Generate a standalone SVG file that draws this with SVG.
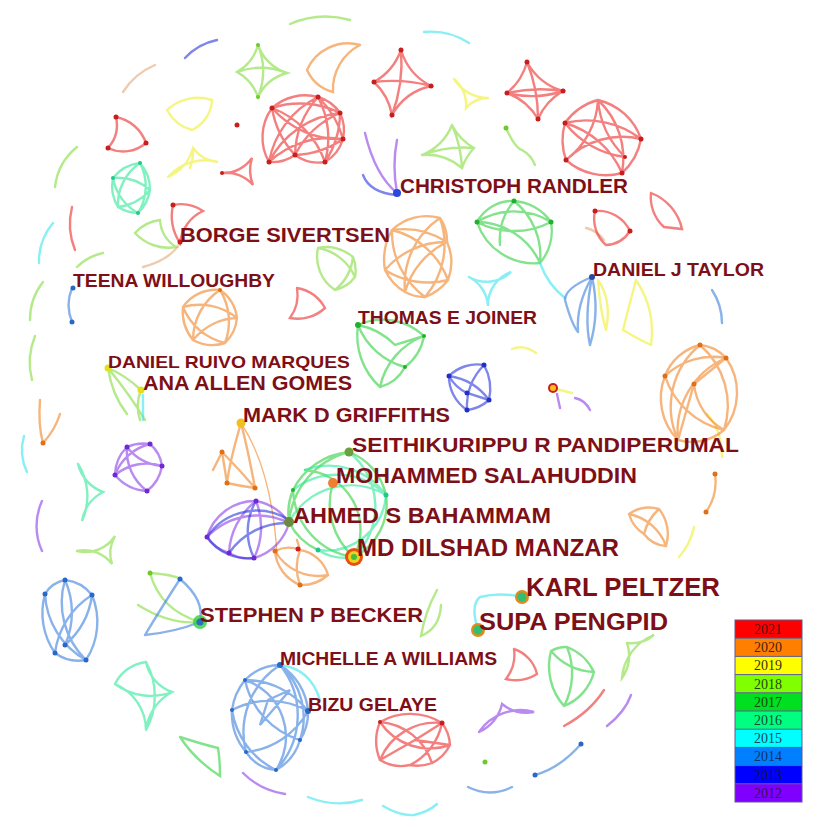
<svg xmlns="http://www.w3.org/2000/svg" width="827" height="827" viewBox="0 0 827 827">
<style>
.e path{fill:none;stroke-width:2.4;stroke-linecap:round;opacity:.6}
.r{stroke:#ec2a2a}.o{stroke:#f08424}.y{stroke:#eeee30}.lg{stroke:#84dc3c}.g{stroke:#2fd040}.t{stroke:#2ee89a}.c{stroke:#38e4ec}.b{stroke:#3a7ede}.db{stroke:#2a36dc}.p{stroke:#8a3ce6}.tan{stroke:#e2a878}
.n circle{stroke:none}
.nr{fill:#c81e1e}.no{fill:#e07018}.ny{fill:#d8d820}.nlg{fill:#70c82a}.ng{fill:#22b030}.nt{fill:#22c888}.nc{fill:#28c8d0}.nb{fill:#2a68c8}.ndb{fill:#2030c8}.np{fill:#7028d0}
.lab{font-family:"Liberation Sans",Arial,sans-serif;font-weight:bold;fill:#7e0f16}
.leg{font-family:"Liberation Serif","Times New Roman",serif;font-size:14px;text-anchor:middle}
</style>
<rect width="827" height="827" fill="#ffffff"/>
<g id="connectors" class="e">
<path class="lg" d="M290,24 A90,90 0 0 1 350,20"/>
<path class="c" d="M424,32 A70,70 0 0 1 469,43"/>
<path class="db" d="M185,58 A60,60 0 0 1 217,40"/>
<path class="tan" d="M123,92 A70,70 0 0 1 155,65"/>
<path class="lg" d="M77,147 A60,60 0 0 0 55,187"/>
<path class="r" d="M72,207 A70,70 0 0 0 75,250"/>
<path class="c" d="M53,223 A60,60 0 0 0 39,263"/>
<path class="lg" d="M77,267 Q88,256 103,253"/>
<path class="lg" d="M43,282 A60,60 0 0 0 30,320"/>
<path class="lg" d="M35,336 A70,70 0 0 0 32,380"/>
<path class="o" d="M40,400 Q38,425 43,443 Q55,430 60,414"/>
<path class="c" d="M24,436 A50,50 0 0 0 27,472"/>
<path class="p" d="M42,501 A60,60 0 0 0 42,551"/>
<path class="p" d="M243,773 Q260,790 285,794"/>
<path class="c" d="M308,797 Q335,808 362,800"/>
<path class="c" d="M383,806 Q400,816 414,815 Q428,812 437,804"/>
<path class="b" d="M468,787 Q490,798 512,787"/>
<path class="b" d="M535,775 Q560,768 581,744"/>
<path class="r" d="M564,726 Q590,712 604,690"/>
<path class="p" d="M607,726 Q625,712 631,695"/>
<path class="y" d="M694,527 Q690,545 679,557"/>
<path class="o" d="M715,474 Q718,495 706,512"/>
<path class="y" d="M707,414 Q722,430 722,457"/>
<path class="b" d="M712,290 A60,60 0 0 1 722,323"/>
<path class="y" d="M512,349 Q524,344 536,353"/>
<path class="tan" d="M586,228 Q596,230 604,240"/>
<path class="lg" d="M506,128 Q515,148 522,150 Q531,155 535,165"/>
<path class="lg" d="M258,45 A45,45 0 0 1 237,72 A45,45 0 0 1 258,97 A45,45 0 0 1 287,73 A45,45 0 0 1 258,45 M237,72 A70,70 0 0 1 287,73 M258,45 A70,70 0 0 1 258,97"/>
<path class="o" d="M360,45 A45,45 0 0 0 307,70 A40,40 0 0 0 333,92 A50,50 0 0 1 360,45"/>
<path class="r" d="M401,50 A60,60 0 0 1 374,82 A60,60 0 0 1 392,115 A60,60 0 0 1 431,86 A60,60 0 0 1 401,50 M374,82 A150,150 0 0 1 431,86 M401,50 A150,150 0 0 1 392,115"/>
<path class="r" d="M527,62 A60,60 0 0 1 507,93 A60,60 0 0 1 538,119 A60,60 0 0 1 563,91 A60,60 0 0 1 527,62 M507,93 A150,150 0 0 1 563,91 M527,62 A150,150 0 0 1 538,119 M507,93 A100,100 0 0 0 563,91"/>
<path class="y" d="M454,79 A35,35 0 0 1 466,108 A30,30 0 0 1 489,98 A40,40 0 0 1 454,79"/>
<path class="r" d="M598,100 A60,60 0 0 0 565,123 A60,60 0 0 0 566,160 A60,60 0 0 0 622,173 A60,60 0 0 0 641,139 A60,60 0 0 0 598,100 M565,123 A90,90 0 0 1 641,139 M565,123 A90,90 0 0 0 625,157 M566,160 A80,80 0 0 1 641,139 M598,100 A80,80 0 0 1 622,173 M598,100 A90,90 0 0 0 625,157 M566,160 A80,80 0 0 0 598,100 M565,123 A90,90 0 0 1 622,173"/>
<path class="lg" d="M452,125 A55,55 0 0 1 422,155 A55,55 0 0 1 462,168 A55,55 0 0 1 474,148 A55,55 0 0 1 452,125 M422,155 A120,120 0 0 1 474,148 M452,125 A120,120 0 0 1 462,168"/>
<path class="y" d="M167,110 A40,40 0 0 0 192,130 A35,35 0 0 0 212,100 A45,45 0 0 0 167,110"/>
<path class="r" d="M272,108 A50,50 0 0 1 318,97 A40,40 0 0 1 340,113 A40,40 0 0 1 343,139 A40,40 0 0 1 325,162 A40,40 0 0 1 295,155 A40,40 0 0 1 269,162 A50,50 0 0 1 272,108 M272,108 A90,90 0 0 1 340,113 M272,108 A90,90 0 0 0 343,139 M272,108 A90,90 0 0 1 325,162 M318,97 A90,90 0 0 1 343,139 M318,97 A90,90 0 0 1 325,162 M318,97 A90,90 0 0 0 295,155 M318,97 A90,90 0 0 0 269,162 M340,113 A90,90 0 0 1 325,162 M340,113 A90,90 0 0 0 295,155 M340,113 A90,90 0 0 0 269,162 M343,139 A90,90 0 0 1 295,155 M343,139 A90,90 0 0 0 269,162 M272,108 A90,90 0 0 0 295,155"/>
<path class="r" d="M116,117 A35,35 0 0 1 108,148 A35,35 0 0 0 146,143 A40,40 0 0 0 116,117"/>
<path class="y" d="M168,177 A45,45 0 0 0 193,148 A35,35 0 0 0 218,162 A50,50 0 0 0 168,177 M193,148 A50,50 0 0 1 190,168"/>
<path class="r" d="M222,173 A35,35 0 0 0 252,158 A40,40 0 0 0 253,185 A35,35 0 0 0 222,173"/>
<path class="p" d="M365,133 Q375,175 397,193 Q392,165 397,140"/>
<path class="db" d="M363,175 Q370,193 397,195"/>
<path class="t" d="M140,163 A40,40 0 0 0 113,178 A40,40 0 0 0 118,207 A40,40 0 0 0 138,213 A40,40 0 0 0 150,190 A40,40 0 0 0 140,163 M113,178 A50,50 0 0 1 150,190 M140,163 A50,50 0 0 1 138,213 M113,178 A50,50 0 0 0 138,213 M118,207 A50,50 0 0 1 140,163 M118,207 A50,50 0 0 0 150,190"/>
<path class="r" d="M173,205 A40,40 0 0 1 203,211 A40,40 0 0 0 180,243 A50,50 0 0 1 173,205"/>
<path class="lg" d="M135,233 A40,40 0 0 1 160,220 A35,35 0 0 0 176,247 A45,45 0 0 1 135,233"/>
<path class="tan" d="M143,267 Q170,260 180,243"/>
<path class="lg" d="M318,248 A40,40 0 0 0 335,290 A35,35 0 0 0 355,277 A35,35 0 0 0 353,257 A40,40 0 0 0 318,248 M318,248 A50,50 0 0 1 355,277 M353,257 A50,50 0 0 1 335,290"/>
<path class="o" d="M440,218 A50,50 0 0 0 392,230 A60,60 0 0 0 385,270 A50,50 0 0 0 405,292 A40,40 0 0 0 425,297 A50,50 0 0 0 448,280 A50,50 0 0 0 447,242 A40,40 0 0 0 440,218 M392,230 A80,80 0 0 1 448,280 M392,230 A80,80 0 0 0 425,297 M440,218 A80,80 0 0 0 405,292 M440,218 A80,80 0 0 1 425,297 M385,270 A80,80 0 0 1 447,242 M385,270 A80,80 0 0 0 448,280 M392,230 A80,80 0 0 1 447,242 M405,292 A80,80 0 0 1 447,242"/>
<path class="b" d="M72,288 A45,45 0 0 0 72,322"/>
<path class="o" d="M220,290 A40,40 0 0 0 183,307 A45,45 0 0 0 193,340 A40,40 0 0 0 225,343 A40,40 0 0 0 237,318 A40,40 0 0 0 220,290 M183,307 A60,60 0 0 1 237,318 M220,290 A60,60 0 0 1 225,343 M220,290 A60,60 0 0 0 193,340 M183,307 A60,60 0 0 0 225,343 M193,340 A60,60 0 0 1 237,318"/>
<path class="r" d="M297,288 A40,40 0 0 1 290,318 A40,40 0 0 0 325,308 A40,40 0 0 0 297,288"/>
<path class="g" d="M358,325 A60,60 0 0 1 424,336 A50,50 0 0 1 405,367 A40,40 0 0 1 380,387 A70,70 0 0 1 358,325 M358,325 A70,70 0 0 0 405,367 M424,336 A70,70 0 0 0 380,387 M358,325 A70,70 0 0 1 395,345 L424,336"/>
<path class="g" d="M514,201 A40,40 0 0 0 477,222 A60,60 0 0 0 540,263 A50,50 0 0 0 551,222 A50,50 0 0 0 514,201 M477,222 A70,70 0 0 1 551,222 M477,222 A80,80 0 0 0 551,222 M514,201 A60,60 0 0 0 500,245 M514,201 A70,70 0 0 1 540,263 M477,222 A70,70 0 0 1 540,263"/>
<path class="c" d="M540,263 Q548,285 565,298"/>
<path class="c" d="M469,277 A35,35 0 0 0 511,272 A35,35 0 0 0 488,306 A35,35 0 0 0 469,277"/>
<path class="r" d="M595,211 A35,35 0 0 0 606,245 A30,30 0 0 0 630,231 A35,35 0 0 0 595,211"/>
<path class="r" d="M651,193 A40,40 0 0 0 664,227 L682,229 A50,50 0 0 0 651,193"/>
<path class="b" d="M592,277 Q565,288 565,300 Q572,325 578,332 M592,277 Q576,305 578,332 M592,277 Q600,312 590,345 M592,277 Q584,318 590,345"/>
<path class="y" d="M598,280 Q612,300 606,330 M598,280 Q600,310 606,330"/>
<path class="y" d="M636,280 Q628,310 623,330 M636,280 Q656,310 651,345 M623,330 Q640,340 651,345"/>
<path class="db" d="M484,365 A40,40 0 0 0 449,376 A40,40 0 0 0 467,410 A40,40 0 0 0 489,400 A50,50 0 0 0 484,365 M449,376 A60,60 0 0 1 489,400 M484,365 A60,60 0 0 0 467,410 M449,376 A40,40 0 0 0 467,393 L489,400"/>
<path class="y" d="M556,389 L572,393"/>
<path class="p" d="M557,394 L560,408 M575,398 Q585,400 590,410"/>
<path class="o" d="M700,345 A50,50 0 0 0 665,376 A60,60 0 0 0 678,440 A50,50 0 0 0 724,430 A60,60 0 0 0 726,358 A40,40 0 0 0 700,345 M665,376 A70,70 0 0 1 726,358 M665,376 A80,80 0 0 0 724,430 M700,345 A80,80 0 0 0 678,440 M700,345 A80,80 0 0 1 724,430 M694,384 L726,358 M694,384 L678,440 M694,384 A60,60 0 0 0 724,430 M726,358 A80,80 0 0 0 678,440"/>
<path class="o" d="M629,514 A35,35 0 0 0 644,534 A30,30 0 0 0 666,546 A40,40 0 0 0 659,509 A35,35 0 0 0 629,514 M629,514 A50,50 0 0 1 666,546 M659,509 A50,50 0 0 0 644,534"/>
<path class="lg" d="M108,368 Q125,375 141,390 M108,368 Q112,395 127,414 M141,390 Q135,405 140,420 M108,368 Q130,395 145,420"/>
<path class="c" d="M143,395 L143,420"/>
<path class="p" d="M127,447 A40,40 0 0 1 150,444 A35,35 0 0 1 162,466 A40,40 0 0 1 147,491 A45,45 0 0 1 115,475 A40,40 0 0 1 127,447 M127,447 A50,50 0 0 0 162,466 M150,444 A50,50 0 0 0 115,475 M127,447 A50,50 0 0 0 147,491 M115,475 A50,50 0 0 1 162,466"/>
<path class="t" d="M78,464 A40,40 0 0 0 103,492 A40,40 0 0 0 82,521 A60,60 0 0 0 78,464"/>
<path class="lg" d="M77,551 A35,35 0 0 0 115,536 A35,35 0 0 0 112,564 A35,35 0 0 0 77,551"/>
<path class="b" d="M65,580 A40,40 0 0 1 92,595 A70,70 0 0 1 86,660 A40,40 0 0 1 55,653 A70,70 0 0 1 45,594 A30,30 0 0 1 65,580 M65,580 A80,80 0 0 1 65,645 M92,595 A80,80 0 0 0 55,653 M45,594 A80,80 0 0 0 86,660 M92,595 A80,80 0 0 1 65,645 M65,580 A80,80 0 0 0 86,660"/>
<path class="lg" d="M150,573 Q160,610 200,622 M138,605 Q170,625 200,622 M150,573 Q175,575 180,579"/>
<path class="b" d="M180,579 Q205,600 200,622 M180,579 Q160,610 145,635 M145,635 Q175,632 200,622"/>
<path class="t" d="M115,684 A40,40 0 0 1 146,662 A40,40 0 0 0 172,692 A50,50 0 0 0 146,730 A50,50 0 0 0 115,684 M115,684 A60,60 0 0 0 172,692 M146,662 A70,70 0 0 1 146,730"/>
<path class="g" d="M180,737 Q205,745 218,748 Q220,760 220,776 Q195,760 180,737"/>
<path class="b" d="M280,665 A50,50 0 0 0 245,680 A60,60 0 0 0 232,710 A60,60 0 0 0 246,752 A40,40 0 0 0 276,770 A50,50 0 0 0 300,740 A50,50 0 0 0 308,711 A60,60 0 0 0 280,665 M280,665 A80,80 0 0 1 276,770 M280,665 A80,80 0 0 0 246,752 M245,680 A80,80 0 0 1 308,711 M245,680 A80,80 0 0 0 300,740 M232,710 A80,80 0 0 1 308,711 M232,710 A80,80 0 0 0 276,770 M280,665 A70,70 0 0 1 300,740 M268,700 L290,690 L260,725 L268,700 M246,752 A80,80 0 0 0 308,711 M245,680 A60,60 0 0 1 276,770"/>
<path class="c" d="M280,665 Q310,668 320,700"/>
<path class="o" d="M241,423 Q248,450 255,488 M222,452 Q240,470 255,488 M222,452 Q225,470 227,483 M227,483 Q240,486 255,488 M241,423 Q230,460 227,483 M213,470 Q218,460 222,452"/>
<path class="o" d="M241,423 Q272,470 277,555" style="stroke-width:1.4"/>
<path class="p" d="M256,501 A50,50 0 0 0 207,537 A40,40 0 0 0 229,553 A40,40 0 0 0 254,558 A50,50 0 0 0 289,523 A50,50 0 0 0 256,501 M207,537 A70,70 0 0 1 289,523 M256,501 A70,70 0 0 0 229,553 M256,501 A70,70 0 0 1 254,558"/>
<path class="db" d="M207,537 A60,60 0 0 1 289,520 M229,553 A70,70 0 0 1 289,523 M254,558 A60,60 0 0 1 256,501 M207,537 A50,50 0 0 0 254,558"/>
<path class="g" d="M349,452 A70,70 0 0 0 293,490 A60,60 0 0 0 289,522 M349,452 A60,60 0 0 1 386,495 A60,60 0 0 1 354,557 M349,452 A80,80 0 0 0 289,522 M305,470 A60,60 0 0 1 354,557 M333,483 A70,70 0 0 0 354,557 M293,490 A70,70 0 0 0 354,557 M289,522 A60,60 0 0 0 318,550"/>
<path class="t" d="M386,495 A70,70 0 0 0 289,522 M386,495 A60,60 0 0 1 318,550 M305,470 A70,70 0 0 1 386,495 M318,550 A50,50 0 0 0 354,557 M349,452 A70,70 0 0 1 354,557 M293,490 A70,70 0 0 1 386,495"/>
<path class="o" d="M275,551 A30,30 0 0 1 300,550 A35,35 0 0 1 328,575 A40,40 0 0 1 300,585 A40,40 0 0 1 275,551 M275,551 A50,50 0 0 0 328,575 M300,550 A50,50 0 0 0 300,585 M297,540 L300,550"/>
<path class="c" d="M478,630 Q470,605 480,597 Q500,592 522,597"/>
<path class="lg" d="M437,590 Q425,612 421,636 Q440,628 441,605"/>
<path class="r" d="M514,649 A35,35 0 0 1 537,674 A40,40 0 0 1 506,679 A40,40 0 0 0 514,649"/>
<path class="g" d="M551,651 A30,30 0 0 1 567,647 A50,50 0 0 1 594,672 A50,50 0 0 1 564,706 A60,60 0 0 1 551,651 M551,651 A60,60 0 0 0 594,672 M567,647 A70,70 0 0 1 564,706"/>
<path class="lg" d="M627,643 A35,35 0 0 0 654,635 A50,50 0 0 0 622,678 A40,40 0 0 0 627,643"/>
<path class="p" d="M479,732 A40,40 0 0 0 502,704 A40,40 0 0 0 534,712 A50,50 0 0 0 479,732"/>
<path class="r" d="M380,722 A50,50 0 0 0 380,760 A40,40 0 0 0 410,765 A40,40 0 0 0 432,763 A40,40 0 0 0 450,745 A40,40 0 0 0 442,723 A60,60 0 0 0 380,722 M380,722 A60,60 0 0 0 450,745 M380,722 A60,60 0 0 1 432,763 M442,723 A60,60 0 0 0 380,760 M442,723 A60,60 0 0 1 410,765 M415,740 L450,745 M415,740 L380,760 M415,740 L442,723"/>
</g>
<g id="cluster-nodes" class="n">
<circle class="nr" cx="401" cy="50" r="2.5"/><circle class="nr" cx="374" cy="82" r="2.5"/><circle class="nr" cx="392" cy="115" r="2.5"/><circle class="nr" cx="431" cy="86" r="2.5"/>
<circle class="nr" cx="527" cy="62" r="2.5"/><circle class="nr" cx="507" cy="93" r="2.5"/><circle class="nr" cx="538" cy="119" r="2.5"/><circle class="nr" cx="563" cy="91" r="2.5"/>
<circle class="nr" cx="565" cy="123" r="2.5"/><circle class="nr" cx="641" cy="139" r="2.5"/><circle class="nr" cx="566" cy="160" r="2.5"/><circle class="nr" cx="622" cy="173" r="2.5"/><circle class="nr" cx="625" cy="157" r="2"/>
<circle class="nr" cx="272" cy="108" r="2.5"/><circle class="nr" cx="318" cy="97" r="2.5"/><circle class="nr" cx="340" cy="113" r="2.5"/><circle class="nr" cx="343" cy="139" r="2.5"/><circle class="nr" cx="325" cy="162" r="2.5"/><circle class="nr" cx="295" cy="155" r="2.5"/><circle class="nr" cx="269" cy="162" r="2.5"/>
<circle class="nr" cx="237" cy="125" r="2.5"/>
<circle class="nr" cx="116" cy="117" r="2.5"/><circle class="nr" cx="108" cy="148" r="2.5"/><circle class="nr" cx="146" cy="143" r="2.5"/>
<circle class="nr" cx="222" cy="173" r="2"/><circle class="nr" cx="173" cy="205" r="2.5"/>
<circle class="nr" cx="595" cy="211" r="2.5"/><circle class="nr" cx="630" cy="231" r="2.5"/>
<circle class="nr" cx="442" cy="723" r="2.5"/><circle class="nr" cx="380" cy="722" r="2"/>
<circle class="nlg" cx="258" cy="45" r="2"/><circle class="nlg" cx="258" cy="97" r="2"/><circle class="nlg" cx="506" cy="128" r="2.5"/>
<circle class="nt" cx="140" cy="163" r="2"/><circle class="nt" cx="138" cy="213" r="2"/><circle class="nt" cx="113" cy="178" r="2"/>
<circle class="ng" cx="514" cy="201" r="2.5"/><circle class="ng" cx="477" cy="222" r="2.5"/><circle class="ng" cx="551" cy="222" r="2.5"/>
<circle class="ng" cx="405" cy="367" r="2"/><circle class="ng" cx="424" cy="336" r="2"/>
<circle class="no" cx="220" cy="290" r="2"/><circle class="no" cx="700" cy="345" r="2.5"/><circle class="no" cx="726" cy="358" r="2.5"/><circle class="no" cx="665" cy="376" r="2.5"/><circle class="no" cx="694" cy="384" r="2.5"/>
<circle class="no" cx="715" cy="474" r="2.5"/><circle class="no" cx="706" cy="512" r="2.5"/><circle class="no" cx="43" cy="443" r="2.5"/>
<circle class="no" cx="222" cy="452" r="2.5"/><circle class="no" cx="227" cy="483" r="2.5"/><circle class="no" cx="255" cy="488" r="2.5"/>
<circle class="no" cx="275" cy="551" r="2.5"/><circle class="nr" cx="298" cy="549" r="2.5"/><circle class="no" cx="300" cy="585" r="2.5"/>
<circle class="np" cx="127" cy="447" r="2.5"/><circle class="np" cx="150" cy="444" r="2.5"/><circle class="np" cx="162" cy="466" r="2.5"/><circle class="np" cx="115" cy="475" r="2.5"/><circle class="np" cx="147" cy="491" r="2.5"/>
<circle class="np" cx="256" cy="501" r="2.5"/><circle class="np" cx="207" cy="537" r="2.5"/><circle class="np" cx="229" cy="553" r="2.5"/><circle class="np" cx="254" cy="558" r="2.5"/>
<circle class="ndb" cx="484" cy="365" r="2.5"/><circle class="ndb" cx="449" cy="376" r="2.5"/><circle class="ndb" cx="467" cy="393" r="2.5"/><circle class="ndb" cx="489" cy="400" r="2.5"/><circle class="ndb" cx="467" cy="410" r="2.5"/>
<circle class="nb" cx="65" cy="580" r="2.5"/><circle class="nb" cx="92" cy="595" r="2.5"/><circle class="nb" cx="45" cy="594" r="2.5"/><circle class="nb" cx="55" cy="653" r="2.5"/><circle class="nb" cx="65" cy="645" r="2.5"/><circle class="nb" cx="86" cy="660" r="2.5"/>
<circle class="nb" cx="180" cy="579" r="2.5"/><circle class="nlg" cx="150" cy="573" r="2.5"/>
<circle class="nb" cx="245" cy="680" r="2"/><circle class="nb" cx="232" cy="710" r="2"/><circle class="nb" cx="246" cy="752" r="2"/><circle class="nb" cx="276" cy="770" r="2"/><circle class="nb" cx="300" cy="740" r="2"/>
<circle class="nb" cx="72" cy="322" r="2.5"/><circle class="nb" cx="535" cy="775" r="2.5"/><circle class="nb" cx="581" cy="744" r="2.5"/>
<circle class="nt" cx="318" cy="550" r="2.5"/><circle class="nt" cx="386" cy="495" r="2.5"/><circle class="ng" cx="293" cy="490" r="2"/>
<circle class="nlg" cx="485" cy="762" r="2.5"/>
<circle class="nr" cx="553" cy="388" r="5"/><circle cx="553" cy="388" r="3" fill="#f4c020"/>
</g>
<g id="node-christoph-randler" class="n"><circle cx="397" cy="193" r="4" fill="#2a48e0"/><text class="lab" x="400" y="193" font-size="20" textLength="228" lengthAdjust="spacingAndGlyphs">CHRISTOPH RANDLER</text></g>
<g id="node-borge-sivertsen" class="n"><circle cx="180" cy="242" r="2.5" class="nr"/><text class="lab" x="180" y="242" font-size="21" textLength="210" lengthAdjust="spacingAndGlyphs">BORGE SIVERTSEN</text></g>
<g id="node-teena-willoughby" class="n"><circle cx="73" cy="288" r="2.5" class="nb"/><text class="lab" x="73" y="287" font-size="18" textLength="202" lengthAdjust="spacingAndGlyphs">TEENA WILLOUGHBY</text></g>
<g id="node-daniel-j-taylor" class="n"><circle cx="592" cy="277" r="3" fill="#2a4aa8"/><text class="lab" x="593" y="276" font-size="18" textLength="171" lengthAdjust="spacingAndGlyphs">DANIEL J TAYLOR</text></g>
<g id="node-thomas-e-joiner" class="n"><circle cx="358" cy="325" r="3" class="ng"/><text class="lab" x="358" y="324" font-size="18" textLength="179" lengthAdjust="spacingAndGlyphs">THOMAS E JOINER</text></g>
<g id="node-daniel-ruivo-marques" class="n"><circle cx="108" cy="368" r="3.5" fill="#e0e020"/><text class="lab" x="108" y="368" font-size="17" textLength="242" lengthAdjust="spacingAndGlyphs">DANIEL RUIVO MARQUES</text></g>
<g id="node-ana-allen-gomes" class="n"><circle cx="141" cy="390" r="3.5" fill="#e0e020"/><text class="lab" x="143" y="390" font-size="20" textLength="209" lengthAdjust="spacingAndGlyphs">ANA ALLEN GOMES</text></g>
<g id="node-mark-d-griffiths" class="n"><circle cx="241" cy="423" r="4.5" fill="#f0c020" stroke="#e08020" stroke-width="1.5"/><text class="lab" x="243" y="422" font-size="20" textLength="207" lengthAdjust="spacingAndGlyphs">MARK D GRIFFITHS</text></g>
<g id="node-seithikurippu-r-pandiperumal" class="n"><circle cx="349" cy="452" r="4.5" fill="#6aa040" stroke="#8a3a2a" stroke-width="2"/><text class="lab" x="352" y="452" font-size="21" textLength="387" lengthAdjust="spacingAndGlyphs">SEITHIKURIPPU R PANDIPERUMAL</text></g>
<g id="node-mohammed-salahuddin" class="n"><circle cx="333" cy="483" r="5" fill="#f08030" stroke="#c02020" stroke-width="2"/><text class="lab" x="336" y="483" font-size="22" textLength="301" lengthAdjust="spacingAndGlyphs">MOHAMMED SALAHUDDIN</text></g>
<g id="node-ahmed-s-bahammam" class="n"><circle cx="289" cy="522" r="5" fill="#6a8a40" stroke="#7a3a2a" stroke-width="2"/><text class="lab" x="293" y="523" font-size="22" textLength="258" lengthAdjust="spacingAndGlyphs">AHMED S BAHAMMAM</text></g>
<g id="node-md-dilshad-manzar" class="n"><circle cx="354" cy="557" r="9" fill="#e85010"/><circle cx="354" cy="557" r="6" fill="#f0d020"/><circle cx="354" cy="557" r="3" fill="#40c040"/><text class="lab" x="357" y="556" font-size="23" textLength="262" lengthAdjust="spacingAndGlyphs">MD DILSHAD MANZAR</text></g>
<g id="node-karl-peltzer" class="n"><circle cx="522" cy="597" r="7" fill="#e08a20"/><circle cx="522" cy="597" r="4.5" fill="#30c070"/><text class="lab" x="526" y="596" font-size="25" textLength="194" lengthAdjust="spacingAndGlyphs">KARL PELTZER</text></g>
<g id="node-supa-pengpid" class="n"><circle cx="478" cy="630" r="7" fill="#e08a20"/><circle cx="478" cy="630" r="4.5" fill="#30c070"/><text class="lab" x="479" y="630" font-size="24" textLength="189" lengthAdjust="spacingAndGlyphs">SUPA PENGPID</text></g>
<g id="node-stephen-p-becker" class="n"><circle cx="200" cy="622" r="7" fill="#30d040" opacity=".8"/><circle cx="200" cy="622" r="3.5" fill="#2a70c0"/><text class="lab" x="200" y="622" font-size="20" textLength="223" lengthAdjust="spacingAndGlyphs">STEPHEN P BECKER</text></g>
<g id="node-michelle-a-williams" class="n"><circle cx="280" cy="665" r="3" class="nb"/><text class="lab" x="280" y="665" font-size="18" textLength="217" lengthAdjust="spacingAndGlyphs">MICHELLE A WILLIAMS</text></g>
<g id="node-bizu-gelaye" class="n"><circle cx="308" cy="711" r="3" class="nb"/><text class="lab" x="308" y="711" font-size="18" textLength="129" lengthAdjust="spacingAndGlyphs">BIZU GELAYE</text></g>
<g id="legend">
<rect x="735" y="620" width="67" height="18.2" fill="#ff0000"/>
<rect x="735" y="638.2" width="67" height="18.2" fill="#ff8000"/>
<rect x="735" y="656.4" width="67" height="18.2" fill="#ffff00"/>
<rect x="735" y="674.6" width="67" height="18.2" fill="#80ff00"/>
<rect x="735" y="692.8" width="67" height="18.2" fill="#00e020"/>
<rect x="735" y="711" width="67" height="18.2" fill="#00ff80"/>
<rect x="735" y="729.2" width="67" height="18.2" fill="#00ffff"/>
<rect x="735" y="747.4" width="67" height="18.2" fill="#0080ff"/>
<rect x="735" y="765.6" width="67" height="18.2" fill="#0000ff"/>
<rect x="735" y="783.8" width="67" height="18.2" fill="#8000ff"/>
<g fill="none" stroke="#5a5a90" stroke-width="1"><rect x="735" y="620" width="67" height="182"/><path d="M735,638.2H802M735,656.4H802M735,674.6H802M735,692.8H802M735,711H802M735,729.2H802M735,747.4H802M735,765.6H802M735,783.8H802"/></g>
<g class="leg">
<text x="768" y="634" fill="#5a1010">2021</text>
<text x="768" y="652" fill="#4a2010">2020</text>
<text x="768" y="670" fill="#3a3010">2019</text>
<text x="768" y="689" fill="#1a4a10">2018</text>
<text x="768" y="707" fill="#104a10">2017</text>
<text x="768" y="725" fill="#105030">2016</text>
<text x="768" y="743" fill="#104a5a">2015</text>
<text x="768" y="761" fill="#10306a">2014</text>
<text x="768" y="780" fill="#10105a">2013</text>
<text x="768" y="798" fill="#3a105a">2012</text>
</g>
</g>
</svg>
